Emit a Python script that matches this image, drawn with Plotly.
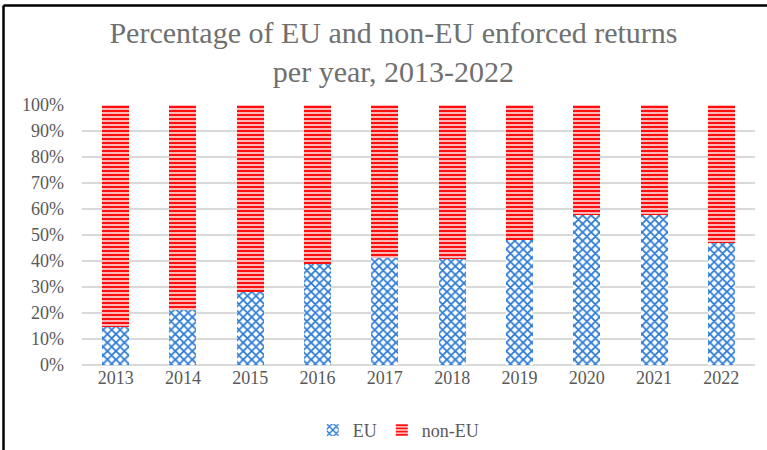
import plotly.graph_objects as go

years = ["2013", "2014", "2015", "2016", "2017", "2018", "2019", "2020", "2021", "2022"]
eu_pct = [14.6, 21.1, 28.0, 38.8, 41.1, 40.6, 48.2, 57.6, 57.8, 46.9]
non_eu_pct = [round(100 - v, 1) for v in eu_pct]
y_ticks = [0, 10, 20, 30, 40, 50, 60, 70, 80, 90, 100]
y_tick_labels = [f"{t}%" for t in y_ticks]

FONT = "Times New Roman, Liberation Serif, DejaVu Serif, serif"
GRAY = "#595959"

fig = go.Figure()
fig.add_trace(go.Bar(
    x=years, y=eu_pct, name="EU",
    marker=dict(color="white", line=dict(width=0),
                pattern=dict(shape="x", fgcolor="#2a7ad6", bgcolor="white",
                             size=6, solidity=0.5, fillmode="replace")),
))
fig.add_trace(go.Bar(
    x=years, y=non_eu_pct, name="non-EU",
    marker=dict(color="white", line=dict(width=0),
                pattern=dict(shape="-", fgcolor="#ff1010", bgcolor="white",
                             size=4, solidity=0.65, fillmode="replace")),
))

L, R, T, B = 82, 12, 105, 85
W, H = 767, 450
pw, ph = W - L - R, H - T - B

fig.update_layout(
    width=W, height=H,
    barmode="stack", bargap=0.6,
    margin=dict(l=L, r=R, t=T, b=B, autoexpand=False),
    paper_bgcolor="white", plot_bgcolor="white",
    font=dict(family=FONT, color=GRAY, size=18),
    title=dict(text="Percentage of EU and non-EU enforced returns<br>per year, 2013-2022",
               x=0.513, xanchor="center", yref="container", y=0.905, yanchor="middle",
               font=dict(family=FONT, size=30, color="#707070")),
    legend=dict(orientation="h", x=0.47, xanchor="center", y=-0.18, yanchor="top",
                font=dict(family=FONT, size=18, color=GRAY), traceorder="normal",
                itemwidth=30, itemsizing="constant"),
    xaxis=dict(showgrid=False, showline=False, ticks="", tickfont=dict(family=FONT, size=18, color=GRAY)),
    yaxis=dict(range=[0, 100], tickvals=y_ticks, ticktext=y_tick_labels,
               showgrid=True, gridcolor="#d9d9d9", gridwidth=1.5,
               zeroline=True, zerolinecolor="#d9d9d9", zerolinewidth=1.5,
               ticklabelstandoff=17, tickfont=dict(family=FONT, size=18, color=GRAY)),
    shapes=[
        dict(type="line", xref="paper", yref="paper",
             x0=(3.5 - L) / pw, x1=(W + 5 - L) / pw,
             y0=(H - B - 5.5) / ph, y1=(H - B - 5.5) / ph,
             line=dict(color="black", width=2.5)),
        dict(type="line", xref="paper", yref="paper",
             x0=(3.5 - L) / pw, x1=(3.5 - L) / pw,
             y0=(H - B - 5.5) / ph, y1=(H - B - 460) / ph,
             line=dict(color="black", width=2.5)),
    ],
)

fig.write_html("out.html")
